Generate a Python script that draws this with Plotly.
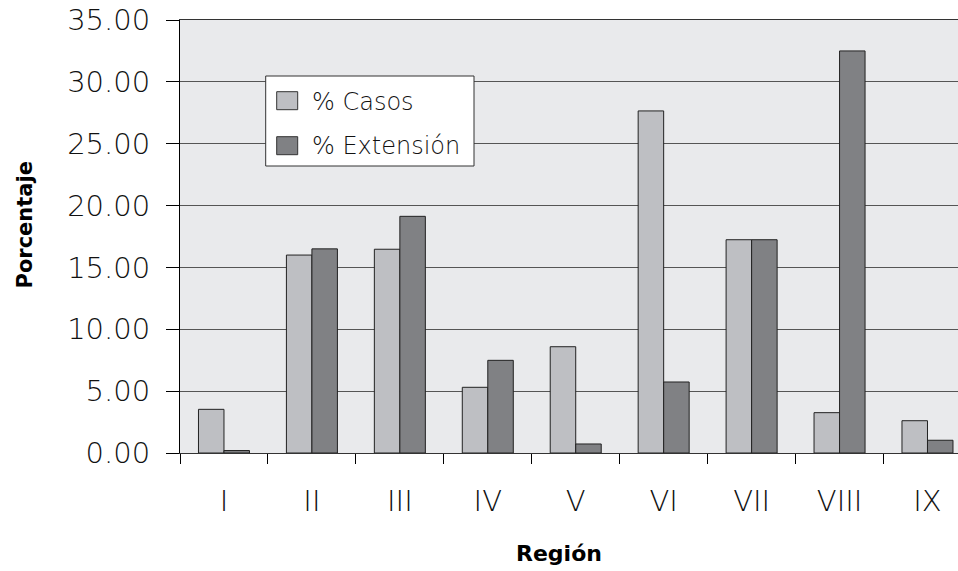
import plotly.graph_objects as go

# data
regiones = ["I", "II", "III", "IV", "V", "VI", "VII", "VIII", "IX"]
casos = [3.53, 16.0, 16.47, 5.31, 8.59, 27.65, 17.24, 3.26, 2.61]
extension = [0.2, 16.5, 19.13, 7.49, 0.73, 5.74, 17.24, 32.5, 1.03]

series_names = ["% Casos", "% Extensión"]
colors = {"% Casos": "#bebfc3", "% Extensión": "#808184"}

W, H = 958, 571
L, T, B, R = 180, 20, 118, 0
PW, PH = W - L - R, H - T - B

def px_x(x):
    # screen pixel -> paper coordinate
    return (x - L) / PW

def px_y(y):
    return (H - B - y) / PH

tick_font = dict(family="DejaVu Sans", size=29, color="#111111", weight=300)
title_font = dict(family="DejaVu Sans", size=22, color="black", weight="bold")

fig = go.Figure()
for name, vals in zip(series_names, [casos, extension]):
    fig.add_trace(go.Bar(
        x=regiones, y=vals, name=name,
        marker=dict(color=colors[name], line=dict(color="#222222", width=1)),
        showlegend=False,
    ))

fig.update_layout(
    width=W, height=H,
    margin=dict(l=L, r=R, t=T, b=B),
    paper_bgcolor="white",
    plot_bgcolor="#e9eaec",
    barmode="group",
    bargap=0.42,
    bargroupgap=0,
)

fig.update_yaxes(
    range=[0, 35], dtick=5, tickformat=".2f",
    ticks="outside", ticklen=13, tickcolor="black", tickwidth=1,
    showline=True, linecolor="black", linewidth=1,
    showgrid=True, gridcolor="#555555", gridwidth=1,
    zeroline=True, zerolinecolor="#333333", zerolinewidth=1,
    tickfont=tick_font, ticklabelstandoff=10, ticklabeloverflow="allow",
)
fig.update_xaxes(
    range=[-0.5, 8.347],
    tickson="boundaries", ticks="outside", ticklen=10,
    tickcolor="black", tickwidth=1,
    showline=True, mirror=True, linecolor="#333333", linewidth=1,
    showgrid=False,
    tickfont=tick_font, ticklabelstandoff=22,
)

# axis titles
fig.add_annotation(text="Región", xref="paper", yref="paper",
                   x=px_x(558.7), y=px_y(553), xanchor="center", yanchor="middle",
                   showarrow=False, font=title_font)
fig.add_annotation(text="Porcentaje", xref="paper", yref="paper",
                   x=px_x(24), y=px_y(225.5), xanchor="center", yanchor="middle",
                   textangle=-90, showarrow=False,
                   font=dict(title_font, size=21))

# legend box drawn by hand to match the reference
fig.add_shape(type="rect", xref="paper", yref="paper",
              x0=px_x(265.7), x1=px_x(474), y0=px_y(166), y1=px_y(76),
              fillcolor="white", line=dict(color="#333333", width=1))
for name, (top, mid) in zip(series_names, [(91.7, 101.7), (136.7, 146)]):
    fig.add_shape(type="rect", xref="paper", yref="paper",
                  x0=px_x(276.7), x1=px_x(297.7), y0=px_y(top + 18), y1=px_y(top),
                  fillcolor=colors[name], line=dict(color="#333333", width=1))
    fig.add_annotation(text=name, xref="paper", yref="paper",
                       x=px_x(310), y=px_y(mid), xanchor="left", yanchor="middle",
                       showarrow=False, font=dict(tick_font, size=24))

# drop the default 8px page margin so the figure sits at the window corner
fig.write_html("out.html", config={"displayModeBar": False},
               post_script="document.body.style.margin='0px';")
